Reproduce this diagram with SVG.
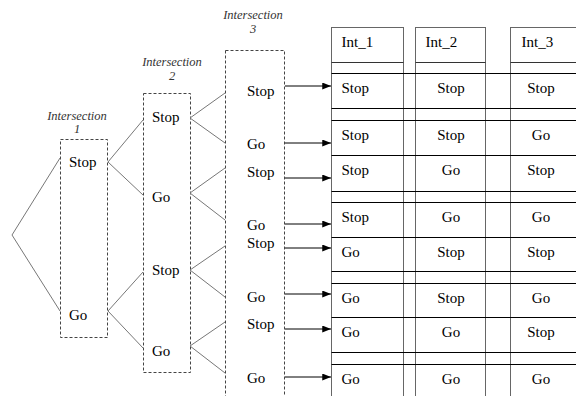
<svg xmlns="http://www.w3.org/2000/svg" width="576" height="396" viewBox="0 0 576 396">
  <style>
    .lbl { font-family: "Liberation Serif", "Times New Roman", serif; font-size: 15px; fill: #000; }
    .cap { font-family: "Liberation Serif", "Times New Roman", serif; font-size: 12.5px; font-style: italic; fill: #333; text-anchor: middle; }
    .box { fill: none; stroke: #444; stroke-width: 1; stroke-dasharray: 3 2; }
    .branch { fill: none; stroke: #777; stroke-width: 1; }
    .arrow { fill: none; stroke: #000; stroke-width: 1; marker-end: url(#head); }
    .col { fill: #fff; stroke: #666; stroke-width: 1; }
    .hdr { stroke: #333; stroke-width: 1; }
    .row { stroke: #000; stroke-width: 1; }
    .mid { text-anchor: middle; }
  </style>
  <defs>
    <marker id="head" viewBox="0 0 10 8" refX="10" refY="4" markerWidth="9" markerHeight="7" markerUnits="userSpaceOnUse" orient="auto">
      <path d="M0,0 L10,4 L0,8 Z" fill="#000"/>
    </marker>
  </defs>

  <rect width="576" height="396" fill="#fff"/>

  <!-- result table: three column boxes -->
  <g id="table">
    <rect class="col" x="331.5" y="27.5" width="72" height="380"/>
    <rect class="col" x="415.5" y="27.5" width="70" height="380"/>
    <rect class="col" x="510.5" y="27.5" width="80" height="380"/>
    <line class="hdr" x1="331.5" y1="62.5" x2="403.5" y2="62.5"/>
    <line class="hdr" x1="415.5" y1="62.5" x2="485.5" y2="62.5"/>
    <line class="hdr" x1="510.5" y1="62.5" x2="576" y2="62.5"/>
    <g class="row">
      <line x1="331.5" y1="73.5" x2="576" y2="73.5"/>
      <line x1="331.5" y1="108.5" x2="576" y2="108.5"/>
      <line x1="331.5" y1="120.5" x2="576" y2="120.5"/>
      <line x1="331.5" y1="155.5" x2="576" y2="155.5"/>
      <line x1="331.5" y1="191.5" x2="576" y2="191.5"/>
      <line x1="331.5" y1="202.5" x2="576" y2="202.5"/>
      <line x1="331.5" y1="237.5" x2="576" y2="237.5"/>
      <line x1="331.5" y1="271.5" x2="576" y2="271.5"/>
      <line x1="331.5" y1="283.5" x2="576" y2="283.5"/>
      <line x1="331.5" y1="317.5" x2="576" y2="317.5"/>
      <line x1="331.5" y1="352.5" x2="576" y2="352.5"/>
      <line x1="331.5" y1="364.5" x2="576" y2="364.5"/>
    </g>
    <text class="lbl" x="341.5" y="46.5">Int_1</text>
    <text class="lbl" x="425.5" y="46.5">Int_2</text>
    <text class="lbl" x="521.5" y="46.5">Int_3</text>

    <text class="lbl" x="341.5" y="92.5">Stop</text>
    <text class="lbl mid" x="451" y="92.5">Stop</text>
    <text class="lbl mid" x="541" y="92.5">Stop</text>

    <text class="lbl" x="341.5" y="139.5">Stop</text>
    <text class="lbl mid" x="451" y="139.5">Stop</text>
    <text class="lbl mid" x="541" y="139.5">Go</text>

    <text class="lbl" x="341.5" y="174.5">Stop</text>
    <text class="lbl mid" x="451" y="174.5">Go</text>
    <text class="lbl mid" x="541" y="174.5">Stop</text>

    <text class="lbl" x="341.5" y="221.5">Stop</text>
    <text class="lbl mid" x="451" y="221.5">Go</text>
    <text class="lbl mid" x="541" y="221.5">Go</text>

    <text class="lbl" x="341.5" y="256.5">Go</text>
    <text class="lbl mid" x="451" y="256.5">Stop</text>
    <text class="lbl mid" x="541" y="256.5">Stop</text>

    <text class="lbl" x="341.5" y="302.5">Go</text>
    <text class="lbl mid" x="451" y="302.5">Stop</text>
    <text class="lbl mid" x="541" y="302.5">Go</text>

    <text class="lbl" x="341.5" y="336.5">Go</text>
    <text class="lbl mid" x="451" y="336.5">Go</text>
    <text class="lbl mid" x="541" y="336.5">Stop</text>

    <text class="lbl" x="341.5" y="383.5">Go</text>
    <text class="lbl mid" x="451" y="383.5">Go</text>
    <text class="lbl mid" x="541" y="383.5">Go</text>
  </g>

  <!-- intersection 1 -->
  <g id="intersection-1">
    <text class="cap" x="77" y="120">Intersection</text>
    <text class="cap" x="77" y="133">1</text>
    <rect class="box" x="60.5" y="139.5" width="47" height="198"/>
    <text class="lbl" x="69" y="167">Stop</text>
    <text class="lbl" x="69" y="320">Go</text>
  </g>

  <!-- intersection 2 -->
  <g id="intersection-2">
    <text class="cap" x="172" y="66">Intersection</text>
    <text class="cap" x="172" y="80">2</text>
    <rect class="box" x="143.5" y="93.5" width="47" height="279"/>
    <text class="lbl" x="152" y="122">Stop</text>
    <text class="lbl" x="152" y="202">Go</text>
    <text class="lbl" x="152" y="275">Stop</text>
    <text class="lbl" x="152" y="356">Go</text>
  </g>

  <!-- intersection 3 -->
  <g id="intersection-3">
    <text class="cap" x="253" y="19">Intersection</text>
    <text class="cap" x="253" y="33">3</text>
    <rect class="box" x="225.5" y="50.5" width="59" height="360"/>
    <text class="lbl" x="247" y="96">Stop</text>
    <text class="lbl" x="247" y="149">Go</text>
    <text class="lbl" x="247" y="177">Stop</text>
    <text class="lbl" x="247" y="230">Go</text>
    <text class="lbl" x="247" y="248">Stop</text>
    <text class="lbl" x="247" y="302">Go</text>
    <text class="lbl" x="247" y="329">Stop</text>
    <text class="lbl" x="247" y="383">Go</text>
  </g>

  <!-- branches and arrows -->
  <g id="connectors">
    <polyline class="branch" points="60,158 12,235 60,311"/>
    <polyline class="branch" points="143,120 108,162 143,195"/>
    <polyline class="branch" points="143,272 108,311 143,348"/>
    <polyline class="branch" points="225,93 190,118 225,143"/>
    <polyline class="branch" points="225,168 190,193 225,220"/>
    <polyline class="branch" points="225,246 190,270 225,297"/>
    <polyline class="branch" points="225,322 190,346 225,373"/>

    <line class="arrow" x1="285" y1="86" x2="331" y2="86"/>
    <line class="arrow" x1="285" y1="143" x2="331" y2="143"/>
    <line class="arrow" x1="285" y1="178" x2="331" y2="178"/>
    <line class="arrow" x1="285" y1="224" x2="331" y2="224"/>
    <line class="arrow" x1="285" y1="248" x2="331" y2="248"/>
    <line class="arrow" x1="285" y1="294" x2="331" y2="294"/>
    <line class="arrow" x1="285" y1="329" x2="331" y2="329"/>
    <line class="arrow" x1="285" y1="377" x2="331" y2="377"/>
  </g>
</svg>
